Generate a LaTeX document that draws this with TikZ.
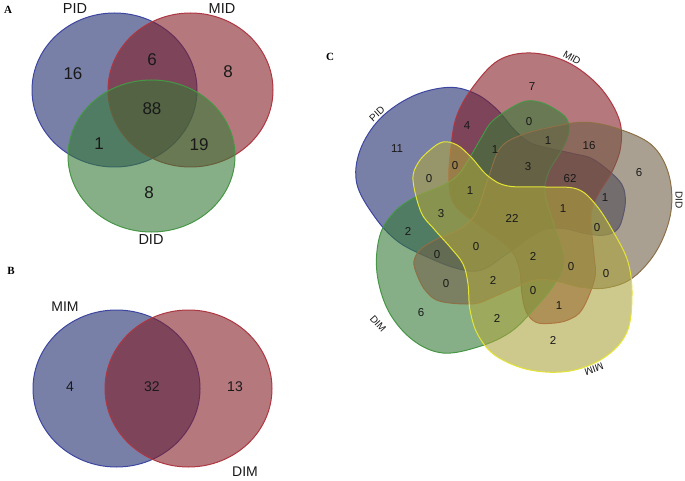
\documentclass[tikz,border=0pt]{standalone}
\usepackage{fontspec}
\setmainfont{Liberation Sans}
\newfontfamily\panelfont{Liberation Serif}
\definecolor{cP}{RGB}{30,43,110}
\definecolor{bP}{RGB}{60,70,160}
\definecolor{cM}{RGB}{130,30,38}
\definecolor{bM}{RGB}{175,55,65}
\definecolor{cG}{RGB}{55,122,55}
\definecolor{bG}{RGB}{70,150,70}
\definecolor{cDID}{RGB}{113,97,72}
\definecolor{bDID}{RGB}{140,112,70}
\definecolor{cMIM}{RGB}{172,164,64}
\definecolor{bMIM}{RGB}{228,228,55}
\definecolor{txt}{RGB}{25,25,25}
\begin{document}
\begin{tikzpicture}[x=1pt,y=-1pt,
  setP/.style={fill=cP,fill opacity=0.6,draw=bP,line width=1pt},
  setM/.style={fill=cM,fill opacity=0.6,draw=bM,line width=1pt},
  setG/.style={fill=cG,fill opacity=0.6,draw=bG,line width=1pt},
  numA/.style={inner sep=0pt,text=txt,font=\fontsize{17}{17}\selectfont},
  labA/.style={inner sep=0pt,text=txt,font=\fontsize{14.5}{14.5}\selectfont},
  numB/.style={inner sep=0pt,text=txt,font=\fontsize{14}{14}\selectfont},
  numC/.style={inner sep=0pt,text=txt,font=\fontsize{11.5}{11.5}\selectfont},
  labC/.style={inner sep=0pt,text=txt,font=\fontsize{10}{10}\selectfont},
  panel/.style={inner sep=0pt,text=black,font=\panelfont\bfseries\fontsize{11}{11}\selectfont}]
\useasboundingbox (0,0) rectangle (685,481);

% ---------- Panel A ----------
\node[panel] (pA) at (8,10) {A};
\draw[setP] (114.5,90) ellipse [x radius=82.5, y radius=77];
\draw[setM] (190.5,90) ellipse [x radius=82.5, y radius=77];
\draw[setG] (151.5,156) ellipse [x radius=83.5, y radius=76];
\node[labA] (lPID) at (75,9) {PID};
\node[labA] (lMID) at (222,9) {MID};
\node[labA] (lDID) at (151,240) {DID};
\node[numA] (a16) at (73,74) {16};
\node[numA] (a6) at (152,60) {6};
\node[numA] (a8m) at (228,72) {8};
\node[numA] (a88) at (152,109) {88};
\node[numA] (a1) at (99,144) {1};
\node[numA] (a19) at (199,145) {19};
\node[numA] (a8d) at (149,193) {8};

% ---------- Panel B ----------
\node[panel] (pB) at (11,271) {B};
\draw[setP] (116.5,388.5) ellipse [x radius=83.5, y radius=78.5];
\draw[setM] (188.5,388.5) ellipse [x radius=83.5, y radius=78.5];
\node[numB] (lMIM) at (65,307) {MIM};
\node[numB] (lDIM) at (245,472) {DIM};
\node[numB] (b4) at (70,387) {4};
\node[numB] (b32) at (152,387) {32};
\node[numB] (b13) at (235,387) {13};

% ---------- Panel C ----------
\node[panel] (pC) at (330,57) {C};
\foreach \ang/\fc/\bc/\sx/\sy in {216/cP/bP/0/0,144/cM/bM/3/7,288/cG/bG/5/-3,72/cDID/bDID/-11/0,0/cMIM/bMIM/0/0}
  \filldraw[fill=\fc,fill opacity=0.6,draw=\bc,line width=1pt,shift={(516+\sx,214+\sy)},rotate=\ang]
    plot[smooth cycle,tension=0.6] coordinates {
      (-103,-34) (-98,-51) (-86,-64) (-73,-72) (-59,-69) (-45,-57) (-28,-38) (-8,-28)
      (29,-27) (61,-25) (80,-9) (98,19) (112,48) (116,81) (111,118) (89,143) (54,157)
      (14,156) (-20,142) (-38,121) (-46,96) (-48,70) (-53,50) (-66,33) (-82,15) (-95,-2)};
\node[labC,rotate=42] (cPID) at (377,114) {PID};
\node[labC,rotate=-30] (cMID) at (572,58) {MID};
\node[labC,rotate=-90] (cDID) at (679,200) {DID};
\node[labC,rotate=200] (cMIM) at (594,369) {MIM};
\node[labC,rotate=-48] (cDIM) at (378,324) {DIM};
\node[numC] (c1) at (397,149) {11};
\node[numC] (c2) at (467,126) {4};
\node[numC] (c3) at (532,87) {7};
\node[numC] (c4) at (529,122) {0};
\node[numC] (c5) at (548,141) {1};
\node[numC] (c6) at (589,146) {16};
\node[numC] (c7) at (495,150) {1};
\node[numC] (c8) at (528,167) {3};
\node[numC] (c9) at (570,179) {62};
\node[numC] (c10) at (639,173) {6};
\node[numC] (c11) at (455,166) {0};
\node[numC] (c12) at (429,179) {0};
\node[numC] (c13) at (470,191) {1};
\node[numC] (c14) at (605,198) {1};
\node[numC] (c15) at (563,209) {1};
\node[numC] (c16) at (441,214) {3};
\node[numC] (c17) at (512,218) {22};
\node[numC] (c18) at (597,228) {0};
\node[numC] (c19) at (408,231) {2};
\node[numC] (c20) at (437,255) {0};
\node[numC] (c21) at (476,247) {0};
\node[numC] (c22) at (533,256) {2};
\node[numC] (c23) at (571,267) {0};
\node[numC] (c24) at (606,274) {0};
\node[numC] (c25) at (446,284) {0};
\node[numC] (c26) at (493,280) {2};
\node[numC] (c27) at (533,291) {0};
\node[numC] (c28) at (559,306) {1};
\node[numC] (c29) at (421,313) {6};
\node[numC] (c30) at (497,318) {2};
\node[numC] (c31) at (553,340) {2};
\end{tikzpicture}
\end{document}
